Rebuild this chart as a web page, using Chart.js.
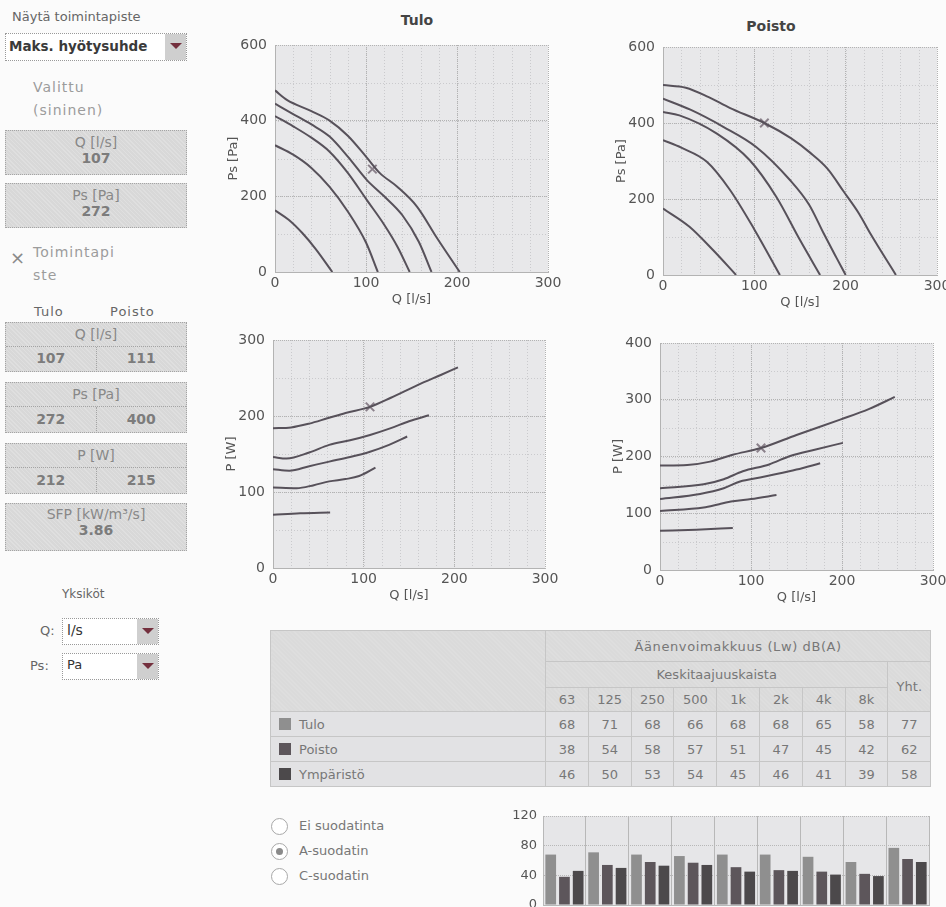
<!DOCTYPE html>
<html>
<head>
<meta charset="utf-8">
<script src="https://cdn.jsdelivr.net/npm/chart.js@4.4.1/dist/chart.umd.min.js"></script>
<style>
  html, body { margin: 0; padding: 0; width: 946px; height: 907px; overflow: hidden; background: #fbfbfb; }
  body { position: relative; font-family: "DejaVu Sans", Verdana, sans-serif; color: #777; }
  .abs { position: absolute; white-space: nowrap; }
  canvas { position: absolute; }
  .box { position: absolute; left: 5px; width: 180px; border: 1px dotted #a4a4a4; text-align: center;
         font-size: 14px; color: #888;
         background: #d8d8d8 repeating-linear-gradient(45deg, rgba(255,255,255,.18) 0 1px, rgba(0,0,0,0) 1px 3px); }
  .box b { color: #7c7c7c; }
  .split { display: flex; border-top: 1px dotted #a4a4a4; }
  .split div { flex: 1; }
  .split div + div { border-left: 1px dotted #a4a4a4; }
  .sel { position: absolute; background: #fff; border: 1px dotted #999; font-size: 14px; color: #333; }
  .sel .btn { position: absolute; right: 0; top: 0; bottom: 0; width: 21px; background: #cfcfcf; }
  .sel .btn:after { content: ""; position: absolute; left: 5px; top: 9px; border-left: 6px solid transparent;
                    border-right: 6px solid transparent; border-top: 6px solid #74303e; }
  .ttl { position: absolute; font-weight: bold; font-size: 14px; color: #444; transform: translateX(-50%); }
  table { position: absolute; left: 270px; top: 630px; width: 660px; border-collapse: collapse; table-layout: fixed;
          font-size: 13px; color: #777; }
  td { border: 1px solid #c6c6c6; text-align: center; padding: 0;
       background: #dadada repeating-linear-gradient(45deg, rgba(255,255,255,.15) 0 1px, rgba(0,0,0,0) 1px 3px); }
  tr.data td { background: #e2e2e4; }
  td.name { text-align: left; padding-left: 8px; }
  .sw { display: inline-block; width: 12px; height: 12px; vertical-align: -1px; margin-right: 8px; }
  .radio { position: absolute; left: 271px; width: 15px; height: 15px; border: 1px solid #a8a8a8; border-radius: 50%; background: #fff; }
  .radio.on:after { content: ""; position: absolute; left: 4px; top: 4px; width: 7px; height: 7px; border-radius: 50%; background: #8a8a8a; }
</style>
</head>
<body>

<div class="abs" style="left:12px;top:9px;font-size:13px;color:#666;">Näytä toimintapiste</div>
<div class="sel" style="left:5px;top:33px;width:180px;height:26px;"><span style="position:absolute;left:3px;top:4px;font-weight:bold;font-size:13.5px;color:#3a3a3a;">Maks. hyötysuhde</span><div class="btn"></div></div>

<div class="abs" style="left:33px;top:79px;font-size:14px;color:#9c9c9c;letter-spacing:1px;">Valittu</div>
<div class="abs" style="left:33px;top:102px;font-size:14px;color:#9c9c9c;letter-spacing:1px;">(sininen)</div>
<div class="box" style="top:130px;height:43px;"><div style="margin-top:3px;">Q [l/s]</div><b>107</b></div>
<div class="box" style="top:183px;height:43px;"><div style="margin-top:3px;">Ps [Pa]</div><b>272</b></div>

<div class="abs" style="left:10px;top:247px;font-size:18px;color:#8a8a8a;">×</div>
<div class="abs" style="left:33px;top:244px;font-size:14px;color:#9c9c9c;letter-spacing:1px;">Toimintapi</div>
<div class="abs" style="left:33px;top:267px;font-size:14px;color:#9c9c9c;letter-spacing:1px;">ste</div>

<div class="abs" style="left:34px;top:304px;font-size:13px;color:#666;letter-spacing:1px;">Tulo</div>
<div class="abs" style="left:110px;top:304px;font-size:13px;color:#666;letter-spacing:1px;">Poisto</div>
<div class="box" style="top:322px;height:48px;"><div style="height:23px;line-height:23px;">Q [l/s]</div><div class="split" style="line-height:23px;"><div><b>107</b></div><div><b>111</b></div></div></div>
<div class="box" style="top:382px;height:49px;"><div style="height:23px;line-height:23px;">Ps [Pa]</div><div class="split" style="line-height:24px;"><div><b>272</b></div><div><b>400</b></div></div></div>
<div class="box" style="top:443px;height:49px;"><div style="height:23px;line-height:23px;">P [W]</div><div class="split" style="line-height:24px;"><div><b>212</b></div><div><b>215</b></div></div></div>
<div class="box" style="top:503px;height:46px;"><div style="margin-top:2px;">SFP [kW/m³/s]</div><b>3.86</b></div>

<div class="abs" style="left:62px;top:587px;font-size:12px;color:#666;">Yksiköt</div>
<div class="abs" style="left:40px;top:623px;font-size:13px;color:#666;">Q:</div>
<div class="sel" style="left:62px;top:618px;width:95px;height:25px;"><span style="position:absolute;left:4px;top:3px;">l/s</span><div class="btn"></div></div>
<div class="abs" style="left:30px;top:658px;font-size:13px;color:#666;">Ps:</div>
<div class="sel" style="left:62px;top:653px;width:95px;height:25px;"><span style="position:absolute;left:4px;top:3px;font-size:13px;">Pa</span><div class="btn"></div></div>

<div class="ttl" style="left:417px;top:12px;">Tulo</div>
<div class="ttl" style="left:771px;top:18px;">Poisto</div>

<canvas id="tuloPs" width="337" height="271" style="left:225px;top:37px;"></canvas>
<canvas id="poistoPs" width="338" height="272" style="left:613px;top:39px;"></canvas>
<canvas id="tuloP" width="336" height="272" style="left:223px;top:332px;"></canvas>
<canvas id="poistoP" width="337" height="271" style="left:610px;top:335px;"></canvas>

<table id="lwTable"></table>

<div class="radio" style="top:818px;"></div>
<div class="abs" style="left:299px;top:818px;font-size:13px;color:#777;">Ei suodatinta</div>
<div class="radio on" style="top:843px;"></div>
<div class="abs" style="left:299px;top:843px;font-size:13px;color:#777;">A-suodatin</div>
<div class="radio" style="top:868px;"></div>
<div class="abs" style="left:299px;top:868px;font-size:13px;color:#777;">C-suodatin</div>

<canvas id="lwBars" width="437" height="119" style="left:498px;top:808px;"></canvas>

<script>
// fan curves, Tulo (supply)
const tuloPsQ = [
  [0, 13, 40, 60, 80, 100, 115, 134, 156, 178, 203],
  [0, 18, 40, 60, 80, 101, 120, 140, 158, 172],
  [0, 20, 40, 60, 80, 101, 120, 135, 148],
  [0, 20, 40, 60, 80, 100, 113],
  [0, 15, 30, 45, 63]
];
const tuloPsVal = [
  [480, 455, 425, 400, 360, 305, 262, 226, 173, 90, 0],
  [445, 420, 390, 358, 305, 243, 200, 150, 80, 0],
  [412, 385, 355, 318, 262, 190, 125, 65, 0],
  [335, 310, 275, 225, 160, 78, 0],
  [163, 138, 103, 60, 0]
];
const tuloPQ = [
  [0, 20, 40, 60, 80, 107, 130, 160, 185, 204],
  [0, 15, 40, 62, 85, 107, 130, 150, 172],
  [0, 18, 40, 62, 85, 107, 128, 148],
  [0, 26, 45, 62, 80, 95, 113],
  [0, 30, 63]
];
const tuloPVal = [
  [184, 185, 190, 197, 204, 212, 224, 241, 254, 264],
  [146, 144, 152, 162, 168, 175, 184, 193, 201],
  [130, 128, 134, 140, 146, 153, 162, 173],
  [106, 105, 109, 114, 117, 121, 132],
  [70, 72, 73]
];

// fan curves, Poisto (extract)
const poistoPsQ = [
  [0, 25, 50, 73, 111, 140, 161, 180, 198, 215, 227, 255],
  [0, 30, 66, 102, 139, 160, 176, 190, 200],
  [0, 18, 59, 95, 124, 150, 172],
  [0, 20, 48, 73, 100, 128],
  [0, 29, 55, 80]
];
const poistoPsVal = [
  [500, 493, 468, 440, 400, 360, 322, 280, 219, 160, 109, 0],
  [464, 435, 390, 337, 250, 185, 109, 45, 0],
  [429, 420, 372, 302, 206, 92, 0],
  [355, 335, 298, 225, 120, 0],
  [175, 127, 65, 0]
];
const poistoPQ = [
  [0, 30, 55, 80, 111, 150, 198, 230, 258],
  [0, 48, 70, 91, 120, 143, 170, 201],
  [0, 44, 70, 88, 110, 128, 150, 176],
  [0, 48, 65, 80, 100, 128],
  [0, 40, 80]
];
const poistoPVal = [
  [184, 185, 191, 203, 215, 238, 265, 284, 305],
  [144, 151, 160, 174, 186, 201, 212, 224],
  [125, 134, 144, 156, 163, 169, 177, 188],
  [104, 110, 116, 121, 125, 132],
  [69, 71, 74]
];

// operating points: [Q, Ps, P]
const tuloPoint = [107, 272, 212];
const poistoPoint = [111, 400, 215];

// sound power table
const freqLabels = ['63', '125', '250', '500', '1k', '2k', '4k', '8k', 'Yht.'];
const tuloLw = [68, 71, 68, 66, 68, 68, 65, 58, 77];
const poistoLw = [38, 54, 58, 57, 51, 47, 45, 42, 62];
const ymparistoLw = [46, 50, 53, 54, 45, 46, 41, 39, 58];
const seriesNames = ['Tulo', 'Poisto', 'Ympäristö'];
const seriesColors = ['#8f8f8f', '#5d565b', '#4c494b'];

const FONT = 'DejaVu Sans';

// keep the plot area where the canvas size says; labels live in layout padding
function noScalePad(s) {
  s.paddingTop = 0; s.paddingBottom = 0; s.paddingLeft = 0; s.paddingRight = 0;
}

const plotBg = {
  id: 'plotBg',
  beforeDraw(chart, args, opts) {
    const { ctx, chartArea: a, scales } = chart;
    ctx.save();
    ctx.fillStyle = opts.color || '#e8e8ea';
    ctx.fillRect(a.left, a.top, a.right - a.left, a.bottom - a.top);
    ctx.strokeStyle = '#cacacd';
    ctx.lineWidth = 1;
    ctx.setLineDash([1, 2]);
    if (opts.xStep) {
      for (let v = opts.xStep; v < scales.x.max; v += opts.xStep) {
        const px = Math.round(scales.x.getPixelForValue(v)) + 0.5;
        ctx.beginPath(); ctx.moveTo(px, a.top); ctx.lineTo(px, a.bottom); ctx.stroke();
      }
    }
    if (opts.yStep) {
      for (let v = opts.yStep; v < scales.y.max; v += opts.yStep) {
        const py = Math.round(scales.y.getPixelForValue(v)) + 0.5;
        ctx.beginPath(); ctx.moveTo(a.left, py); ctx.lineTo(a.right, py); ctx.stroke();
      }
    }
    ctx.restore();
  }
};

function curveChart(id, qs, vals, opQ, opV, yMax, yStep, yMinor, yTitle) {
  const datasets = qs.map((q, i) => ({
    data: q.map((x, j) => ({ x: x, y: vals[i][j] })),
    borderColor: '#57515a',
    borderWidth: 2,
    pointRadius: 0,
    tension: 0.4,
    cubicInterpolationMode: 'monotone'
  }));
  datasets.push({
    type: 'scatter',
    data: [{ x: opQ, y: opV }],
    pointStyle: 'crossRot',
    pointRadius: 6,
    borderColor: '#8b818b',
    borderWidth: 2
  });
  return new Chart(document.getElementById(id), {
    type: 'line',
    data: { datasets: datasets },
    plugins: [plotBg],
    options: {
      responsive: false,
      animation: false,
      events: [],
      layout: { padding: { top: 8, right: 14, left: 0, bottom: 0 } },
      plugins: {
        legend: { display: false },
        tooltip: { enabled: false },
        plotBg: { xStep: 20, yStep: yMinor }
      },
      scales: {
        x: {
          type: 'linear', min: 0, max: 300,
          afterFit: s => { s.height = 36; noScalePad(s); },
          ticks: { stepSize: 100, padding: 3, color: '#555', font: { family: FONT, size: 14 } },
          grid: { color: '#b3b3b3', drawTicks: false },
          border: { color: '#b3b3b3', dash: [1, 1] },
          title: { display: true, text: 'Q [l/s]', color: '#555', padding: 1, font: { family: FONT, size: 13 } }
        },
        y: {
          min: 0, max: yMax,
          afterFit: s => { s.width = 50; noScalePad(s); },
          ticks: { stepSize: yStep, padding: 8, color: '#555', font: { family: FONT, size: 14 } },
          grid: { color: '#b3b3b3', drawTicks: false },
          border: { color: '#b3b3b3', dash: [1, 1] },
          title: { display: true, text: yTitle, color: '#555', padding: 1, font: { family: FONT, size: 13 } }
        }
      }
    }
  });
}

curveChart('tuloPs', tuloPsQ, tuloPsVal, tuloPoint[0], tuloPoint[1], 600, 200, 100, 'Ps [Pa]');
curveChart('poistoPs', poistoPsQ, poistoPsVal, poistoPoint[0], poistoPoint[1], 600, 200, 100, 'Ps [Pa]');
curveChart('tuloP', tuloPQ, tuloPVal, tuloPoint[0], tuloPoint[2], 300, 100, 50, 'P [W]');
curveChart('poistoP', poistoPQ, poistoPVal, poistoPoint[0], poistoPoint[2], 400, 100, 50, 'P [W]');

// table
const table = document.getElementById('lwTable');
const colW = ['275px'].concat(freqLabels.map(() => '42.8px'));
let html = '<colgroup>' + colW.map(w => '<col style="width:' + w + '">').join('') + '</colgroup>';
html += '<tr style="height:31px"><td rowspan="3"></td><td colspan="9" style="letter-spacing:0.6px">Äänenvoimakkuus (Lw) dB(A)</td></tr>';
html += '<tr style="height:26px"><td colspan="8">Keskitaajuuskaista</td><td rowspan="2">Yht.</td></tr>';
html += '<tr style="height:24px">' + freqLabels.slice(0, 8).map(f => '<td>' + f + '</td>').join('') + '</tr>';
[tuloLw, poistoLw, ymparistoLw].forEach((row, i) => {
  html += '<tr class="data" style="height:25px"><td class="name"><span class="sw" style="background:' + seriesColors[i] + '"></span>' +
    seriesNames[i] + '</td>' + row.map(v => '<td>' + v + '</td>').join('') + '</tr>';
});
table.innerHTML = html;

// sound bars
new Chart(document.getElementById('lwBars'), {
  type: 'bar',
  data: {
    labels: freqLabels,
    datasets: [tuloLw, poistoLw, ymparistoLw].map((d, i) => ({
      label: seriesNames[i],
      data: d,
      backgroundColor: seriesColors[i],
      barPercentage: 0.78,
      categoryPercentage: 0.96
    }))
  },
  plugins: [plotBg],
  options: {
    responsive: false,
    animation: false,
    events: [],
    layout: { padding: { top: 8, right: 6, left: 0, bottom: 0 } },
    plugins: { legend: { display: false }, tooltip: { enabled: false }, plotBg: { color: '#e6e6e8' } },
    scales: {
      x: {
        afterFit: s => { s.height = 22; noScalePad(s); },
        ticks: { color: '#555', font: { family: FONT, size: 12 } },
        grid: { color: '#b8b8b8', drawTicks: false },
        border: { color: '#b8b8b8' }
      },
      y: {
        min: 0, max: 120,
        afterFit: s => { s.width = 45; noScalePad(s); },
        ticks: {
          stepSize: 20, padding: 6, color: '#555', font: { family: FONT, size: 13 },
          callback: v => (v % 40 === 0 ? v : '')
        },
        grid: { color: c => (c.tick && c.tick.value % 40 === 0 ? '#b8b8b8' : '#cfcfd2'), drawTicks: false },
        border: { color: '#b8b8b8', dash: [1, 1] }
      }
    }
  }
});
</script>
</body>
</html>
